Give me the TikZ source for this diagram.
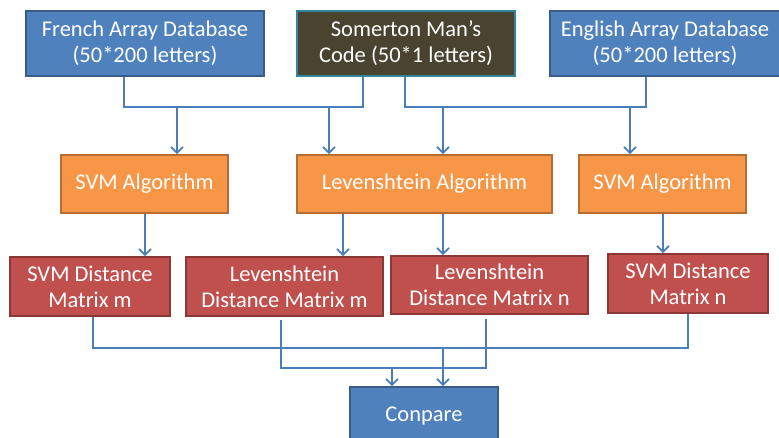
\documentclass[tikz,border=0pt]{standalone}
\usepackage{fontspec}
\setmainfont{Carlito}
\usetikzlibrary{arrows.meta}
\definecolor{bfill}{HTML}{4F81BD}
\definecolor{bdraw}{HTML}{385D8A}
\definecolor{ofill}{HTML}{F79646}
\definecolor{odraw}{HTML}{B66D31}
\definecolor{rfill}{HTML}{C0504D}
\definecolor{rdraw}{HTML}{8C3836}
\definecolor{sfill}{HTML}{4A4330}
\definecolor{sdraw}{HTML}{31859C}
\definecolor{lcol}{HTML}{4A7EBB}
\tikzset{
  boxbase/.style={inner sep=0pt, line width=1.6pt, text=white, align=center,
    font=\fontsize{22.5}{26}\selectfont},
  bluebox/.style={boxbase, fill=bfill, draw=bdraw},
  olivebox/.style={boxbase, fill=sfill, draw=sdraw},
  orangebox/.style={boxbase, fill=ofill, draw=odraw},
  redbox/.style={boxbase, fill=rfill, draw=rdraw},
  conn/.style={draw=lcol, line width=1.8pt},
  arr/.style={conn, -{Straight Barb[length=6pt,width=12pt,line width=1.8pt]}},
}
\begin{document}
\begin{tikzpicture}[x=1pt,y=-1pt]
\useasboundingbox (0,0) rectangle (779,437);
% top row
\node[bluebox, minimum width=238pt, minimum height=65pt] (fr) at (145,43.5) {French Array Database\\(50*200 letters)};
\node[olivebox, minimum width=218pt, minimum height=65pt] (som) at (406,43.5) {Somerton Man’s\\Code (50*1 letters)};
\node[bluebox, minimum width=230pt, minimum height=65pt] (en) at (665,43.5) {English Array Database\\(50*200 letters)};
% middle row
\node[orangebox, minimum width=167pt, minimum height=58pt] (svml) at (144.5,184) {SVM Algorithm};
\node[orangebox, minimum width=255pt, minimum height=58pt] (leva) at (424.5,184) {Levenshtein Algorithm};
\node[orangebox, minimum width=167pt, minimum height=58pt] (svmr) at (662.5,184) {SVM Algorithm};
% red row
\node[redbox, minimum width=160pt, minimum height=59pt] (dm1) at (90,286.5) {SVM Distance\\Matrix m};
\node[redbox, minimum width=197pt, minimum height=59pt] (dm2) at (284.5,286.5) {Levenshtein\\Distance Matrix m};
\node[redbox, minimum width=197pt, minimum height=58pt] (dm3) at (489.5,285) {Levenshtein\\Distance Matrix n};
\node[redbox, minimum width=160pt, minimum height=59pt] (dm4) at (688,283.5) {SVM Distance\\Matrix n};
% bottom
\node[bluebox, minimum width=148pt, minimum height=58pt] (cmp) at (424,416) {Conpare};
% top buses
\coordinate (j1) at (124,107);
\coordinate (j2) at (363,107);
\coordinate (j3) at (405,107);
\coordinate (j4) at (646,107);
\coordinate (a1) at (177,107);
\coordinate (a2) at (329,107);
\coordinate (a3) at (443,107);
\coordinate (a4) at (630,107);
\draw[conn] (fr.south -| j1) -- (j1) -- (j2) -- (som.south -| j2);
\draw[conn] (som.south -| j3) -- (j3) -- (j4) -- (en.south -| j4);
\draw[arr] (a1) -- (svml.north -| a1);
\draw[arr] (a2) -- (leva.north -| a2);
\draw[arr] (a3) -- (leva.north -| a3);
\draw[arr] (a4) -- (svmr.north -| a4);
% middle arrows
\coordinate (m1) at (145,0);
\coordinate (m2) at (343,0);
\coordinate (m3) at (443,0);
\coordinate (m4) at (663,0);
\draw[arr] (svml.south -| m1) -- (dm1.north -| m1);
\draw[arr] (leva.south -| m2) -- (dm2.north -| m2);
\draw[arr] (leva.south -| m3) -- (dm3.north -| m3);
\draw[arr] (svmr.south -| m4) -- (dm4.north -| m4);
% bottom buses
\coordinate (b1) at (93,348);
\coordinate (b2) at (688,348);
\coordinate (c1) at (281,368);
\coordinate (c2) at (486,368);
\coordinate (k1) at (392,368);
\coordinate (k2) at (443,348);
\draw[conn] (dm1.south -| b1) -- (b1) -- (b2) -- (dm4.south -| b2);
\draw[conn] ([yshift=-3pt]dm2.south -| c1) -- (c1) -- (c2) -- ([yshift=-4pt]dm3.south -| c2);
\draw[arr] (k1) -- (cmp.north -| k1);
\draw[arr] (k2) -- (cmp.north -| k2);
\end{tikzpicture}
\end{document}
